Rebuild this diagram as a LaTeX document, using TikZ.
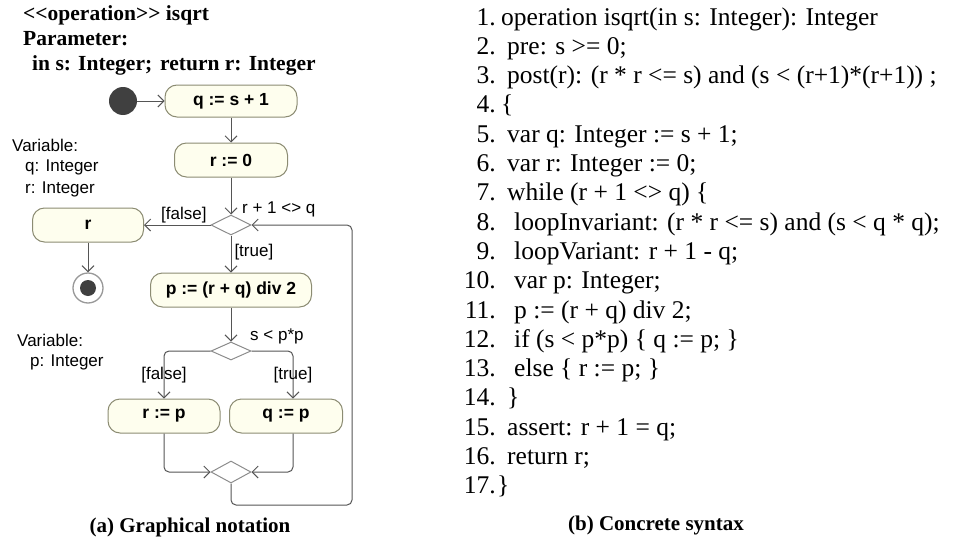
\documentclass[tikz,border=0pt]{standalone}
\usepackage{fontspec}
\setmainfont{Liberation Serif}
\setsansfont{Liberation Sans}
\usetikzlibrary{arrows.meta, shapes.geometric, positioning}

\definecolor{boxfill}{RGB}{254,254,238}
\definecolor{boxline}{RGB}{140,140,115}
\definecolor{flowline}{RGB}{85,85,85}
\definecolor{dotfill}{RGB}{64,64,64}

\tikzset{
    action/.style={draw=boxline, fill=boxfill, rounded corners=12pt, line width=1pt,
        minimum height=34pt, inner sep=2pt, font=\sffamily\bfseries\fontsize{17.5}{20}\selectfont},
    decision/.style={diamond, draw=gray!90, fill=white, line width=1pt, inner sep=0pt,
        minimum width=40pt, minimum height=20pt},
    initial/.style={circle, fill=dotfill, minimum size=28pt, inner sep=0pt},
    final/.style={circle, draw=gray!80, fill=white, line width=1.3pt, minimum size=30pt, inner sep=0pt},
    flow/.style={draw=flowline, line width=1pt, -{Straight Barb[length=6pt,width=12pt]}},
    guard/.style={font=\sffamily\fontsize{17}{20}\selectfont, inner sep=1pt},
    note/.style={font=\sffamily\fontsize{17}{20}\selectfont, inner sep=0pt},
    headline/.style={font=\bfseries\fontsize{21.5}{25}\selectfont, inner sep=0pt},
    caption/.style={font=\bfseries\fontsize{21}{25}\selectfont, inner sep=0pt},
    codeline/.style={font=\fontsize{25.5}{29}\selectfont, inner sep=0pt},
}

\begin{document}
\begin{tikzpicture}[x=1pt, y=-1pt]
    % размеры картинки
    \useasboundingbox (0,0) rectangle (961,538);
    \def\xc{231}     % ось основной ветки
    \def\dy{29.3}    % шаг строк кода

    % заголовок операции
    \node[headline, anchor=base west] (head1) at (23,20) {<{}<operation>{}> isqrt};
    \node[headline, anchor=base west] (head2) at (23,45) {Parameter:};
    \node[headline, anchor=base west] (head3) at (32,70) {in s: Integer;\hspace{8pt}return r: Integer};

    % переменные
    \node[note, anchor=base west] (var1) at (12,151) {Variable:};
    \node[note, anchor=base west] (var2) at (25,171) {q: Integer};
    \node[note, anchor=base west] (var3) at (25,193) {r: Integer};
    \node[note, anchor=base west] (var4) at (17,346) {Variable:};
    \node[note, anchor=base west] (var5) at (30,366) {p: Integer};

    % узлы диаграммы
    \node[initial] (start) at (123,101) {};
    \node[action, minimum width=132pt, minimum height=32pt] (qinit) at (\xc,101) {q := s + 1};
    \node[action, minimum width=113pt] (rinit) at (\xc,160) {r := 0};
    \node[decision] (loop) at (\xc,225) {};
    \node[action, minimum width=111pt] (res) at (88,225) {r};
    \node[final] (stop) at (88,288) {};
    \fill[dotfill] (stop) circle (8pt);
    \node[action, minimum width=161pt] (mid) at (\xc,290) {p := (r + q) div 2};
    \node[decision, minimum height=18pt] (test) at (\xc,351) {};
    \node[action, minimum width=112pt] (lower) at (164,416) {r := p};
    \node[action, minimum width=113pt] (upper) at (286,416) {q := p};
    \node[decision, minimum height=22pt] (merge) at (\xc,472) {};
    \coordinate (back) at (352,505);

    % подписи условий
    \node[guard, anchor=west] (cond1) at ([xshift=10pt, yshift=5pt]loop.north) {r + 1 <> q};
    \node[guard, anchor=west] (cond2) at ([xshift=18pt, yshift=5pt]test.north) {s < p*p};

    % переходы
    \draw[flow] (start) -- (qinit);
    \draw[flow] (qinit) -- (rinit);
    \draw[flow] (rinit) -- (loop);
    \draw[flow] (loop) -- node[guard, above, pos=0.4] {[false]} (res);
    \draw[flow] (res) -- (stop);
    \draw[flow] (loop) -- node[guard, right, pos=0.45, xshift=2pt] {[true]} (mid);
    \draw[flow] (mid) -- (test);
    \draw[flow, rounded corners=5pt] (test) -| node[guard, pos=0.75] {[false]} (lower);
    \draw[flow, rounded corners=5pt] (test) -| node[guard, pos=0.75] {[true]} ([xshift=7pt]upper.north);
    \draw[flow, rounded corners=5pt] (lower) |- (merge);
    \draw[flow, rounded corners=5pt] ([xshift=7pt]upper.south) |- (merge);
    \draw[flow, rounded corners=5pt] (merge) |- (back) |- (loop);

    % текст программы
    \foreach \n/\lx/\txt in {
        1/501/{operation isqrt(in s: Integer): Integer},
        2/507/{pre: s >= 0;},
        3/507/{post(r): (r * r <= s) and (s < (r+1)*(r+1)) ;},
        4/501/{\{},
        5/507/{var q: Integer := s + 1;},
        6/507/{var r: Integer := 0;},
        7/507/{while (r + 1 <> q) \{},
        8/514/{loopInvariant: (r * r <= s) and (s < q * q);},
        9/514/{loopVariant: r + 1 - q;},
        10/514/{var p: Integer;},
        11/514/{p := (r + q) div 2;},
        12/514/{if (s < p*p) \{ q := p; \}},
        13/514/{else \{ r := p; \}},
        14/507/{\}},
        15/507/{assert: r + 1 = q;},
        16/507/{return r;},
        17/497/{\}}} {
        \node[codeline, anchor=base east] (num\n) at (496,{25+\dy*(\n-1)}) {\n.};
        \node[codeline, anchor=base west] (line\n) at (\lx,{25+\dy*(\n-1)}) {\txt};
    }

    % подписи
    \node[caption, anchor=base] (capa) at (190,532) {(a) Graphical notation};
    \node[caption, anchor=base] (capb) at (656,530) {(b) Concrete syntax};
\end{tikzpicture}
\end{document}
